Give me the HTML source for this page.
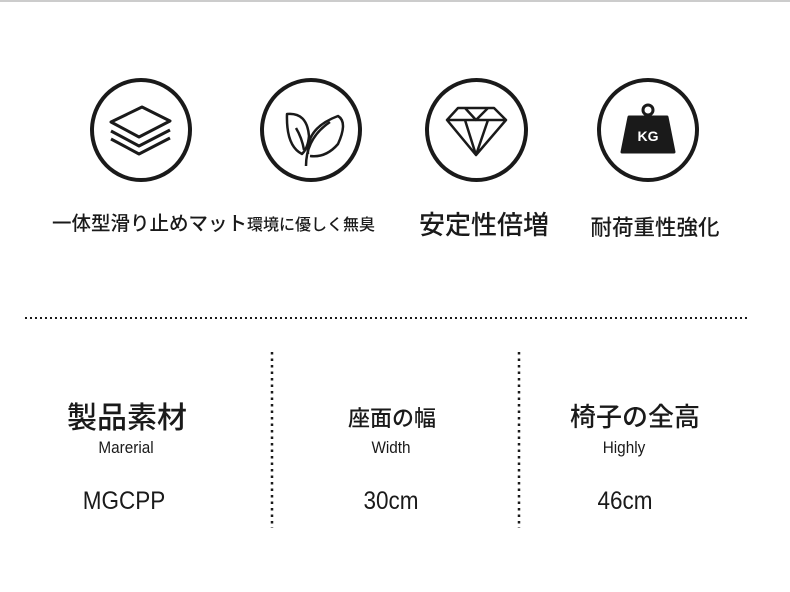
<!DOCTYPE html>
<html><head><meta charset="utf-8"><style>
body{margin:0;width:790px;height:592px;background:#fff;position:relative;overflow:hidden;font-family:"Liberation Sans","Noto Sans CJK JP",sans-serif;color:#1a1a1a}
.t{position:absolute;white-space:nowrap;transform:translateX(-50%)}
.c{position:absolute;border:4px solid #1a1a1a;border-radius:50%;box-sizing:border-box}
.m{font-weight:500}
</style></head><body>
<div style="position:absolute;left:0;top:0;width:790px;height:2px;background:#ccc"></div>
<div class="c" style="left:90px;top:78px;width:102px;height:104px"></div>
<div class="c" style="left:260px;top:78px;width:102px;height:104px"></div>
<div class="c" style="left:425px;top:78px;width:103px;height:104px"></div>
<div class="c" style="left:597px;top:78px;width:102px;height:104px"></div>
<svg style="position:absolute;left:0;top:0" width="790" height="592" fill="none" stroke="#1a1a1a" stroke-width="3" stroke-linejoin="round">
<path d="M111 122 L142 107 L170 121 L139 137 Z"/>
<path d="M111 131 L139 146 L170 130"/>
<path d="M111 139 L139 154 L170 138"/>
<path d="M287 114 q20 -2 22 22 q-1 12 -7 18 q-16 -8 -15 -40z" stroke-width="2.5"/>
<path d="M308 154 q-2 -26 30 -38 q10 6 0 28 q-12 14 -28 12" stroke-width="2.5"/>
<path d="M306 166 q0 -28 24 -44 M296 128 q6 10 8 22" stroke-width="2.5"/>
<path d="M447 120 L458 108 L494 108 L506 120 L476 155 Z M447 120 H506 M465 108 L476 120 L488 108 M465 120 L476 155 L488 120" stroke-width="2.5"/>
<circle cx="648" cy="110" r="5" stroke-width="3"/>
<path d="M629 117 H667 L674 152 H622 Z" fill="#1a1a1a"/>
<text x="648" y="141" font-family="Liberation Sans" font-weight="bold" font-size="14" fill="#fff" stroke="none" text-anchor="middle">KG</text>
<line x1="25" y1="318" x2="748" y2="318" stroke-width="2" stroke-dasharray="2 3"/>
<line x1="272" y1="352" x2="272" y2="528" stroke-width="2.5" stroke-dasharray="2.5 4"/>
<line x1="519" y1="352" x2="519" y2="528" stroke-width="2.5" stroke-dasharray="2.5 4"/>
</svg>
<div class="t m" style="top:207px;font-size:19.5px;transform:none;left:52px">一体型滑り止めマット<span style="font-size:16px">環境に優しく無臭</span></div>
<div class="t m" style="left:484px;top:205px;font-size:26px">安定性倍増</div>
<div class="t m" style="left:655px;top:211px;font-size:21.5px">耐荷重性強化</div>
<div class="t m" style="left:127px;top:393px;font-size:30px">製品素材</div>
<div class="t" style="left:126px;top:438px;font-size:17px;transform:translateX(-50%) scaleX(0.9)">Marerial</div>
<div class="t" style="left:124px;top:487px;font-size:25px;transform:translateX(-50%) scaleX(0.9)">MGCPP</div>
<div class="t m" style="left:392px;top:401px;font-size:22px">座面の幅</div>
<div class="t" style="left:391px;top:438px;font-size:17px;transform:translateX(-50%) scaleX(0.9)">Width</div>
<div class="t" style="left:391px;top:487px;font-size:25px;transform:translateX(-50%) scaleX(0.9)">30cm</div>
<div class="t m" style="left:635px;top:397px;font-size:26px">椅子の全高</div>
<div class="t" style="left:624px;top:438px;font-size:17px;transform:translateX(-50%) scaleX(0.9)">Highly</div>
<div class="t" style="left:625px;top:487px;font-size:25px;transform:translateX(-50%) scaleX(0.9)">46cm</div>
</body></html>
